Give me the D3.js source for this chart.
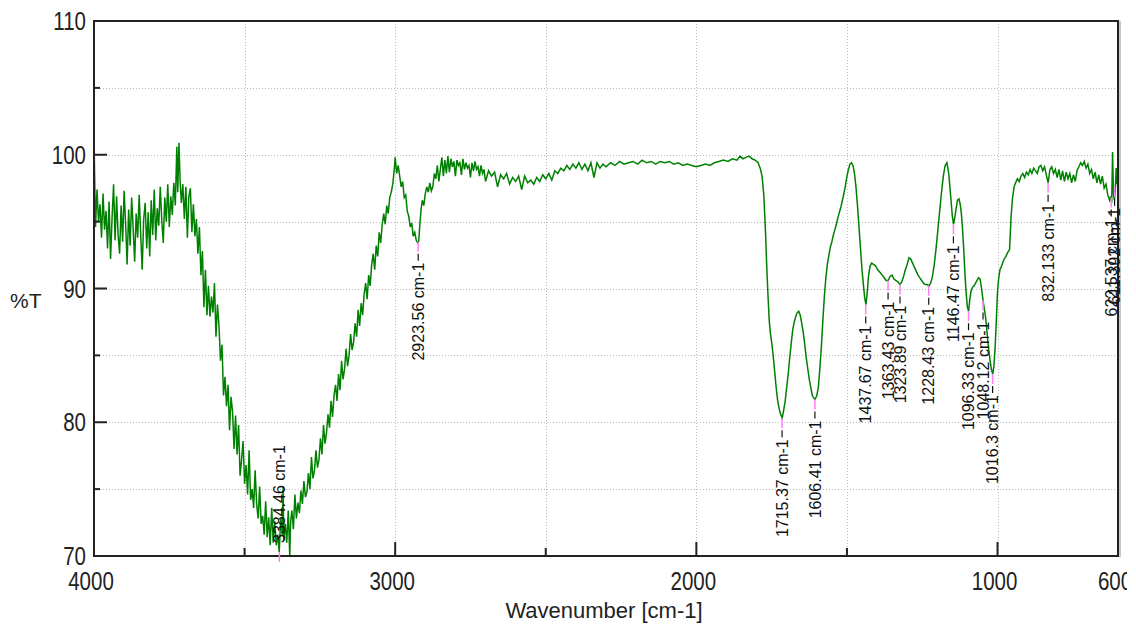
<!DOCTYPE html>
<html>
<head>
<meta charset="utf-8">
<script src="https://cdn.jsdelivr.net/npm/d3@7"></script>
<style>
  body { margin: 0; background: #fff; }
  svg { display: block; }
</style>
</head>
<body>
<div id="chart"></div>
<script>

// Spectrum (wavenumber cm-1, %T)
const wavenumber = [
  4000,3995,3990,3985,3980,3975,3970,3965,3960,3955,3950,3945,3940,3935,3930,3925,3920,3915,3910,3905,
  3900,3895,3890,3885,3880,3875,3870,3865,3860,3855,3850,3845,3840,3835,3830,3825,3820,3815,3810,3805,
  3800,3795,3790,3785,3780,3775,3770,3765,3760,3755,3750,3745,3740,3735,3730,3725,3722,3718,3714,3710,
  3705,3700,3695,3690,3685,3680,3675,3670,3665,3660,3655,3650,3645,3640,3635,3630,3625,3620,3615,3610,
  3605,3600,3595,3590,3585,3580,3575,3570,3565,3560,3555,3550,3545,3540,3535,3530,3525,3520,3515,3510,
  3505,3500,3495,3490,3485,3480,3475,3470,3465,3460,3455,3450,3445,3440,3435,3430,3425,3420,3415,3410,
  3405,3400,3395,3390,3385,3380,3375,3372,3370,3365,3360,3355,3350,3347,3343,3338,3333,3328,3323,3318,
  3313,3308,3303,3298,3293,3288,3283,3278,3273,3268,3263,3258,3253,3248,3243,3238,3233,3228,3223,3218,
  3213,3208,3203,3198,3193,3188,3183,3178,3173,3168,3163,3158,3153,3148,3143,3138,3133,3128,3123,3118,
  3113,3108,3103,3098,3093,3088,3083,3078,3073,3068,3063,3058,3053,3048,3043,3038,3033,3028,3023,3018,
  3013,3008,3003,3000,2995,2990,2985,2980,2975,2970,2965,2960,2955,2950,2945,2940,2935,2930,2925,2922,
  2918,2914,2910,2905,2900,2895,2890,2885,2880,2875,2870,2865,2860,2855,2850,2845,2840,2835,2830,2825,
  2820,2815,2810,2805,2800,2795,2790,2785,2780,2775,2770,2765,2760,2755,2750,2745,2740,2735,2730,2725,
  2720,2715,2710,2705,2700,2690,2680,2670,2660,2650,2640,2630,2620,2610,2600,2590,2580,2570,2560,2550,
  2540,2530,2520,2510,2500,2490,2480,2470,2460,2450,2440,2430,2420,2410,2400,2390,2380,2370,2360,2350,
  2340,2330,2320,2310,2300,2285,2270,2255,2240,2225,2210,2195,2180,2165,2150,2135,2120,2105,2090,2075,
  2060,2045,2030,2015,2000,1985,1970,1955,1940,1925,1910,1895,1880,1865,1855,1845,1835,1825,1815,1805,
  1795,1788,1782,1776,1770,1766,1762,1758,1754,1750,1745,1740,1735,1730,1725,1720,1715,1710,1705,1700,
  1695,1690,1685,1680,1675,1670,1665,1660,1655,1650,1645,1640,1635,1630,1625,1620,1615,1610,1606,1600,
  1595,1590,1585,1580,1575,1570,1565,1560,1555,1550,1545,1540,1535,1530,1525,1520,1515,1510,1505,1500,
  1495,1490,1485,1480,1475,1470,1465,1460,1455,1450,1445,1441,1437,1433,1428,1423,1418,1412,1405,1398,
  1390,1383,1376,1370,1363,1357,1350,1344,1338,1331,1324,1318,1312,1306,1300,1294,1288,1282,1276,1270,
  1264,1258,1252,1246,1240,1234,1228,1222,1216,1210,1204,1198,1192,1186,1180,1174,1168,1162,1156,1150,
  1146,1142,1138,1133,1128,1124,1120,1116,1112,1108,1104,1100,1096,1092,1088,1083,1078,1073,1068,1063,
  1058,1053,1048,1044,1040,1036,1032,1028,1024,1020,1016,1012,1008,1004,1000,996,992,988,983,978,
  972,966,960,955,950,945,940,934,928,922,916,910,904,898,892,886,880,874,868,862,
  856,850,844,838,832,826,820,814,808,802,796,790,784,778,772,766,760,754,748,742,
  736,730,724,718,712,706,700,694,688,682,676,670,664,658,652,646,640,634,628,624,
  621,618,615,612,609,606,603,600
];
const transmittance = [
  101.2,94.6,97.4,95.0,96.3,93.8,97.1,94.4,95.8,93.0,96.5,92.2,95.3,97.8,93.6,96.9,94.0,92.6,96.2,93.5,
  97.3,94.8,91.8,95.9,93.2,96.8,94.5,92.0,95.6,93.8,97.0,94.1,91.4,95.2,96.4,93.0,95.7,92.4,96.6,94.0,
  97.4,93.6,96.0,94.7,97.6,95.1,93.4,96.8,95.0,97.8,94.6,96.9,95.5,97.9,96.2,100.6,97.2,100.9,98.0,96.4,
  97.8,95.2,97.6,93.8,96.9,97.5,94.2,96.3,93.9,95.2,92.6,94.6,91.0,92.8,88.6,91.4,88.0,90.2,87.9,89.4,
  88.2,90.4,86.4,88.8,87.2,84.6,85.8,82.0,83.4,81.2,82.8,79.4,81.9,80.8,78.0,80.5,77.6,79.8,76.0,77.2,
  78.6,75.4,76.8,74.6,77.9,74.2,75.0,73.6,76.4,73.9,72.8,75.2,72.4,73.0,71.6,74.1,71.4,72.9,70.8,73.6,
  71.0,72.6,70.8,71.6,70.3,72.8,71.6,75.2,71.2,72.4,71.0,73.4,70.0,72.6,73.4,72.0,74.6,72.8,74.0,73.2,
  74.9,73.9,75.6,74.4,74.8,76.2,75.0,77.4,75.8,76.4,77.9,76.6,77.2,78.8,77.6,79.8,78.4,79.2,80.6,79.6,
  81.6,80.4,82.0,82.8,81.6,83.6,82.4,84.6,83.2,84.0,85.5,84.2,85.0,86.6,85.4,86.0,87.4,86.4,88.4,87.2,
  88.9,88.0,89.6,90.4,89.2,91.0,90.2,91.8,92.6,91.4,93.2,92.4,94.2,93.4,94.8,95.6,94.8,96.2,95.6,96.8,
  97.2,97.8,98.9,99.8,98.6,99.2,98.4,97.6,98.0,96.8,97.0,95.8,95.4,94.6,94.9,93.9,94.2,93.6,93.4,93.5,
  94.8,95.9,96.6,96.2,97.1,97.6,97.2,97.9,97.3,97.6,98.6,98.2,99.2,98.0,98.9,99.8,98.4,99.6,98.6,99.9,
  98.7,99.7,99.1,99.5,98.4,99.6,99.2,99.4,98.5,99.7,98.9,99.4,99.0,99.2,98.3,99.4,98.8,99.5,98.9,99.1,
  98.4,99.2,98.6,98.9,98.0,98.8,98.4,98.7,97.6,98.5,98.2,98.6,97.8,98.3,98.0,98.4,97.4,98.4,97.9,98.1,
  97.8,98.3,98.0,98.5,98.2,98.6,98.1,98.8,98.6,99.0,98.8,99.2,98.9,99.3,99.0,99.4,98.9,99.3,98.8,99.4,
  98.3,99.4,99.0,99.3,99.1,99.4,99.2,99.5,99.3,99.4,99.5,99.3,99.6,99.4,99.5,99.3,99.5,99.4,99.5,99.3,
  99.4,99.2,99.3,99.2,99.1,99.2,99.3,99.2,99.4,99.5,99.6,99.5,99.7,99.6,99.9,99.7,99.8,99.9,99.7,99.6,
  99.4,99.0,98.4,97.0,94.0,91.5,89.4,87.6,86.6,86.0,85.0,83.8,82.6,81.6,81.0,80.6,80.3,80.9,81.6,82.6,
  83.6,84.8,85.9,86.9,87.5,87.9,88.2,88.3,88.0,87.4,86.7,85.8,84.8,84.0,83.2,82.6,82.0,81.8,81.7,82.0,
  82.6,84.0,85.6,87.6,89.4,90.8,91.8,92.5,93.1,93.5,94.0,94.4,94.8,95.3,95.7,96.1,96.6,97.1,97.7,98.4,
  98.9,99.3,99.4,99.2,98.6,97.6,96.2,94.6,93.0,91.4,90.2,89.3,88.8,89.6,91.0,91.7,91.9,91.8,91.7,91.4,
  91.2,91.0,90.8,90.6,90.6,90.9,91.0,90.7,90.6,90.5,90.3,90.5,90.9,91.4,91.8,92.3,92.2,91.9,91.6,91.3,
  91.0,90.8,90.6,90.4,90.3,90.3,90.2,90.4,90.9,91.8,93.0,94.4,95.8,97.2,98.4,99.2,99.4,98.6,97.0,95.4,
  94.8,95.3,95.9,96.6,96.7,96.3,95.6,94.4,92.8,91.0,89.6,88.6,88.3,89.2,89.8,90.1,90.2,90.4,90.6,90.8,
  90.7,90.0,89.1,88.5,87.9,87.0,86.0,85.2,84.5,83.9,83.6,84.2,85.6,87.6,89.8,90.8,91.4,91.6,91.9,92.2,
  92.4,92.7,92.9,95.4,96.8,97.6,97.9,98.2,98.0,98.4,98.6,98.3,98.7,98.5,98.9,98.6,99.0,98.8,98.6,99.1,
  99.2,98.8,99.1,98.5,97.9,98.9,99.1,98.6,98.9,98.3,98.9,98.1,98.8,98.0,98.7,98.2,98.6,97.9,98.5,98.0,
  98.8,99.1,99.4,99.2,99.5,99.0,99.3,98.6,98.9,98.2,98.7,97.9,98.5,97.8,98.4,97.5,97.8,97.0,96.6,96.9,
  96.4,100.2,97.0,96.6,97.4,99.0,97.8,98.4
];

// Labelled peaks
const peakWn = [3384.46, 2923.56, 1715.37, 1606.41, 1437.67, 1363.43, 1323.89, 1228.43, 1146.47, 1096.33, 1048.12, 1016.3, 832.133, 622.537, 611.392];
const peakT = [70.3, 93.5, 80.3, 81.7, 88.8, 90.6, 90.3, 90.2, 94.8, 88.3, 89.1, 83.6, 97.9, 96.8, 97.6];
const peakText = ["3384.46 cm-1", "2923.56 cm-1", "1715.37 cm-1", "1606.41 cm-1", "1437.67 cm-1", "1363.43 cm-1", "1323.89 cm-1", "1228.43 cm-1", "1146.47 cm-1", "1096.33 cm-1", "1048.12 cm-1", "1016.3 cm-1", "832.133 cm-1", "622.537 cm-1", "611.392 cm-1"];

const xTicks = [4000, 3000, 2000, 1000, 600];
const xMinor = [3500, 2500, 1500];
const yTicks = [70, 80, 90, 100, 110];
const yMinor = [75, 85, 95, 105];

const W = 1136, H = 624;
const mLeft = 94, mRight = 1118, mTop = 21, mBottom = 556;

const x = d3.scaleLinear().domain([4000, 600]).range([mLeft, mRight]);
const y = d3.scaleLinear().domain([70, 110]).range([mBottom, mTop]);

const svg = d3.select('#chart').append('svg')
  .attr('width', W)
  .attr('height', H);

const defs = svg.append('defs');
defs.append('clipPath').attr('id', 'plot-clip')
  .append('rect').attr('x', mLeft).attr('y', mTop).attr('width', mRight - mLeft).attr('height', mBottom - mTop);
defs.append('clipPath').attr('id', 'label-clip')
  .append('rect').attr('x', 0).attr('y', 0).attr('width', 1127).attr('height', H);

// grid
const grid = svg.append('g').attr('stroke', '#b8b8b8').attr('stroke-width', 1).attr('stroke-dasharray', '1,2');
[3500, 3000, 2500, 2000, 1500, 1000].forEach(v => {
  grid.append('line').attr('x1', Math.round(x(v)) + 0.5).attr('x2', Math.round(x(v)) + 0.5)
    .attr('y1', mTop).attr('y2', mBottom);
});
[75, 80, 85, 90, 95, 100, 105].forEach(v => {
  grid.append('line').attr('y1', Math.round(y(v)) + 0.5).attr('y2', Math.round(y(v)) + 0.5)
    .attr('x1', mLeft).attr('x2', mRight);
});

// spectrum
const pts = wavenumber.map((w, i) => [w, transmittance[i]]);
const line = d3.line().defined(d => d[1] != null).x(d => x(d[0])).y(d => y(d[1]));
svg.append('path')
  .datum(pts)
  .attr('clip-path', 'url(#plot-clip)')
  .attr('fill', 'none')
  .attr('stroke', '#008000')
  .attr('stroke-width', 1.5)
  .attr('d', line);

// frame
svg.append('line').attr('x1', mRight + 2).attr('x2', mRight + 2).attr('y1', mTop).attr('y2', mBottom + 1)
  .attr('stroke', '#c8c8c8').attr('stroke-width', 2);
svg.append('rect')
  .attr('x', mLeft).attr('y', mTop).attr('width', mRight - mLeft).attr('height', mBottom - mTop)
  .attr('fill', 'none').attr('stroke', '#222').attr('stroke-width', 2);

// ticks
const ticks = svg.append('g').attr('stroke', '#222').attr('stroke-width', 2);
yTicks.forEach(v => ticks.append('line').attr('x1', mLeft).attr('x2', mLeft + 13).attr('y1', y(v)).attr('y2', y(v)));
yMinor.forEach(v => ticks.append('line').attr('x1', mLeft).attr('x2', mLeft + 6).attr('y1', y(v)).attr('y2', y(v)));
xTicks.forEach(v => ticks.append('line').attr('x1', x(v)).attr('x2', x(v)).attr('y1', mBottom).attr('y2', mBottom - 14));
xMinor.forEach(v => ticks.append('line').attr('x1', x(v)).attr('x2', x(v)).attr('y1', mBottom).attr('y2', mBottom - 8));

// tick labels: tall, narrow digits as in the reference
const tickFont = '"Liberation Sans", Arial, sans-serif';

svg.append('g').selectAll('text').data(yTicks).enter().append('text')
  .attr('transform', d => `translate(${mLeft - 8},${y(d) + 9}) scale(0.82,1)`)
  .attr('text-anchor', 'end')
  .attr('font-family', tickFont).attr('font-size', 25).attr('fill', '#222')
  .text(d => d);

svg.append('g').attr('clip-path', 'url(#label-clip)')
  .selectAll('text').data(xTicks).enter().append('text')
  .attr('transform', d => `translate(${x(d) - 3},${mBottom + 34}) scale(0.82,1)`)
  .attr('text-anchor', 'middle')
  .attr('font-family', tickFont).attr('font-size', 25).attr('fill', '#222')
  .text(d => d);

svg.append('text')
  .attr('x', 604).attr('y', 618)
  .attr('text-anchor', 'middle')
  .attr('font-family', '"Liberation Sans", Arial, sans-serif').attr('font-size', 22).attr('fill', '#222')
  .text('Wavenumber [cm-1]');

svg.append('text')
  .attr('x', 10).attr('y', 308)
  .attr('font-family', '"Liberation Sans", Arial, sans-serif').attr('font-size', 21).attr('fill', '#222')
  .text('%T');

// peak labels
const peaks = svg.append('g');
peakWn.forEach((w, i) => {
  const px = x(w), py = y(peakT[i]);
  const g = peaks.append('g');
  g.append('line').attr('x1', px).attr('x2', px).attr('y1', py).attr('y2', py + 10)
    .attr('stroke', '#ff80ff').attr('stroke-width', 1.5);
  if (py + 21 + 100 > mBottom) {
    g.append('text')
      .attr('transform', `translate(${px},${mBottom - 13}) rotate(-90)`)
      .attr('dy', '0.35em')
      .attr('font-family', '"Liberation Sans", Arial, sans-serif').attr('font-size', 16).attr('fill', '#111')
      .text(peakText[i]);
  } else {
    g.append('line').attr('x1', px).attr('x2', px).attr('y1', py + 12).attr('y2', py + 19)
      .attr('stroke', '#111').attr('stroke-width', 1.2);
    g.append('text')
      .attr('transform', `translate(${px},${py + 21}) rotate(-90)`)
      .attr('dy', '0.35em')
      .attr('text-anchor', 'end')
      .attr('font-family', '"Liberation Sans", Arial, sans-serif').attr('font-size', 16).attr('fill', '#111')
      .text(peakText[i]);
  }
});
</script>
</body>
</html>
